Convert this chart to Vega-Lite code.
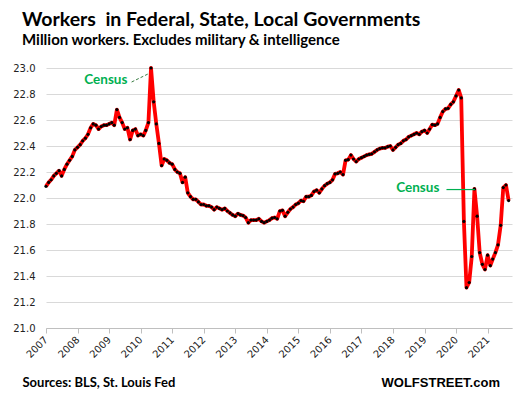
{
  "$schema": "https://vega.github.io/schema/vega-lite/v6.json",
  "width": 466,
  "height": 260,
  "autosize": {"type": "none"},
  "padding": {"left": 46, "top": 68, "right": 6, "bottom": 71},
  "background": "white",
  "config": {"view": {"stroke": null}},
  "title": {
    "text": "Workers\u00a0 in Federal, State, Local Governments",
    "subtitle": "Million workers. Excludes military & intelligence",
    "anchor": "start",
    "frame": "group",
    "dx": -24,
    "offset": 14,
    "font": "Lato",
    "fontSize": 19.5,
    "fontWeight": "bold",
    "color": "black",
    "subtitleFont": "Lato",
    "subtitleFontSize": 15,
    "subtitleFontWeight": "bold",
    "subtitleColor": "black",
    "subtitlePadding": 3
  },
  "layer": [
    {
      "data": {"values": [
        {"d":"2007-01-01","v":22.09},{"d":"2007-02-01","v":22.12},{"d":"2007-03-01","v":22.14},{"d":"2007-04-01","v":22.17},{"d":"2007-05-01","v":22.19},{"d":"2007-06-01","v":22.21},{"d":"2007-07-01","v":22.17},{"d":"2007-08-01","v":22.22},{"d":"2007-09-01","v":22.26},{"d":"2007-10-01","v":22.29},{"d":"2007-11-01","v":22.32},{"d":"2007-12-01","v":22.37},
        {"d":"2008-01-01","v":22.39},{"d":"2008-02-01","v":22.41},{"d":"2008-03-01","v":22.44},{"d":"2008-04-01","v":22.46},{"d":"2008-05-01","v":22.49},{"d":"2008-06-01","v":22.54},{"d":"2008-07-01","v":22.57},{"d":"2008-08-01","v":22.56},{"d":"2008-09-01","v":22.53},{"d":"2008-10-01","v":22.55},{"d":"2008-11-01","v":22.56},{"d":"2008-12-01","v":22.56},
        {"d":"2009-01-01","v":22.57},{"d":"2009-02-01","v":22.58},{"d":"2009-03-01","v":22.56},{"d":"2009-04-01","v":22.68},{"d":"2009-05-01","v":22.62},{"d":"2009-06-01","v":22.58},{"d":"2009-07-01","v":22.53},{"d":"2009-08-01","v":22.54},{"d":"2009-09-01","v":22.45},{"d":"2009-10-01","v":22.52},{"d":"2009-11-01","v":22.53},{"d":"2009-12-01","v":22.48},
        {"d":"2010-01-01","v":22.49},{"d":"2010-02-01","v":22.48},{"d":"2010-03-01","v":22.52},{"d":"2010-04-01","v":22.58},{"d":"2010-05-01","v":23.0},{"d":"2010-06-01","v":22.74},{"d":"2010-07-01","v":22.57},{"d":"2010-08-01","v":22.42},{"d":"2010-09-01","v":22.25},{"d":"2010-10-01","v":22.3},{"d":"2010-11-01","v":22.29},{"d":"2010-12-01","v":22.27},
        {"d":"2011-01-01","v":22.26},{"d":"2011-02-01","v":22.22},{"d":"2011-03-01","v":22.2},{"d":"2011-04-01","v":22.19},{"d":"2011-05-01","v":22.12},{"d":"2011-06-01","v":22.16},{"d":"2011-07-01","v":22.04},{"d":"2011-08-01","v":22.01},{"d":"2011-09-01","v":21.99},{"d":"2011-10-01","v":21.99},{"d":"2011-11-01","v":21.97},{"d":"2011-12-01","v":21.95},
        {"d":"2012-01-01","v":21.95},{"d":"2012-02-01","v":21.94},{"d":"2012-03-01","v":21.94},{"d":"2012-04-01","v":21.93},{"d":"2012-05-01","v":21.91},{"d":"2012-06-01","v":21.93},{"d":"2012-07-01","v":21.92},{"d":"2012-08-01","v":21.91},{"d":"2012-09-01","v":21.92},{"d":"2012-10-01","v":21.9},{"d":"2012-11-01","v":21.885},{"d":"2012-12-01","v":21.87},
        {"d":"2013-01-01","v":21.86},{"d":"2013-02-01","v":21.88},{"d":"2013-03-01","v":21.87},{"d":"2013-04-01","v":21.865},{"d":"2013-05-01","v":21.85},{"d":"2013-06-01","v":21.81},{"d":"2013-07-01","v":21.83},{"d":"2013-08-01","v":21.83},{"d":"2013-09-01","v":21.83},{"d":"2013-10-01","v":21.84},{"d":"2013-11-01","v":21.82},{"d":"2013-12-01","v":21.81},
        {"d":"2014-01-01","v":21.82},{"d":"2014-02-01","v":21.83},{"d":"2014-03-01","v":21.845},{"d":"2014-04-01","v":21.85},{"d":"2014-05-01","v":21.84},{"d":"2014-06-01","v":21.9},{"d":"2014-07-01","v":21.905},{"d":"2014-08-01","v":21.86},{"d":"2014-09-01","v":21.89},{"d":"2014-10-01","v":21.915},{"d":"2014-11-01","v":21.93},{"d":"2014-12-01","v":21.95},
        {"d":"2015-01-01","v":21.96},{"d":"2015-02-01","v":21.98},{"d":"2015-03-01","v":21.975},{"d":"2015-04-01","v":22.01},{"d":"2015-05-01","v":22.01},{"d":"2015-06-01","v":22.02},{"d":"2015-07-01","v":22.05},{"d":"2015-08-01","v":22.06},{"d":"2015-09-01","v":22.04},{"d":"2015-10-01","v":22.07},{"d":"2015-11-01","v":22.095},{"d":"2015-12-01","v":22.11},
        {"d":"2016-01-01","v":22.12},{"d":"2016-02-01","v":22.14},{"d":"2016-03-01","v":22.185},{"d":"2016-04-01","v":22.19},{"d":"2016-05-01","v":22.2},{"d":"2016-06-01","v":22.18},{"d":"2016-07-01","v":22.29},{"d":"2016-08-01","v":22.295},{"d":"2016-09-01","v":22.33},{"d":"2016-10-01","v":22.3},{"d":"2016-11-01","v":22.28},{"d":"2016-12-01","v":22.3},
        {"d":"2017-01-01","v":22.31},{"d":"2017-02-01","v":22.32},{"d":"2017-03-01","v":22.33},{"d":"2017-04-01","v":22.335},{"d":"2017-05-01","v":22.34},{"d":"2017-06-01","v":22.355},{"d":"2017-07-01","v":22.37},{"d":"2017-08-01","v":22.38},{"d":"2017-09-01","v":22.385},{"d":"2017-10-01","v":22.385},{"d":"2017-11-01","v":22.395},{"d":"2017-12-01","v":22.4},
        {"d":"2018-01-01","v":22.37},{"d":"2018-02-01","v":22.39},{"d":"2018-03-01","v":22.41},{"d":"2018-04-01","v":22.42},{"d":"2018-05-01","v":22.44},{"d":"2018-06-01","v":22.45},{"d":"2018-07-01","v":22.47},{"d":"2018-08-01","v":22.48},{"d":"2018-09-01","v":22.49},{"d":"2018-10-01","v":22.5},{"d":"2018-11-01","v":22.49},{"d":"2018-12-01","v":22.51},
        {"d":"2019-01-01","v":22.52},{"d":"2019-02-01","v":22.5},{"d":"2019-03-01","v":22.53},{"d":"2019-04-01","v":22.565},{"d":"2019-05-01","v":22.56},{"d":"2019-06-01","v":22.57},{"d":"2019-07-01","v":22.62},{"d":"2019-08-01","v":22.665},{"d":"2019-09-01","v":22.685},{"d":"2019-10-01","v":22.69},{"d":"2019-11-01","v":22.72},{"d":"2019-12-01","v":22.74},
        {"d":"2020-01-01","v":22.785},{"d":"2020-02-01","v":22.83},{"d":"2020-03-01","v":22.77},{"d":"2020-04-01","v":21.82},{"d":"2020-05-01","v":21.31},{"d":"2020-06-01","v":21.35},{"d":"2020-07-01","v":21.55},{"d":"2020-08-01","v":22.07},{"d":"2020-09-01","v":21.86},{"d":"2020-10-01","v":21.58},{"d":"2020-11-01","v":21.49},{"d":"2020-12-01","v":21.45},
        {"d":"2021-01-01","v":21.56},{"d":"2021-02-01","v":21.48},{"d":"2021-03-01","v":21.53},{"d":"2021-04-01","v":21.58},{"d":"2021-05-01","v":21.64},{"d":"2021-06-01","v":21.79},{"d":"2021-07-01","v":22.08},{"d":"2021-08-01","v":22.1},{"d":"2021-09-01","v":21.98}
      ]},
      "mark": {"type": "line", "color": "#FF0000", "strokeWidth": 3.8, "strokeJoin": "round", "point": {"filled": true, "color": "black", "size": 10}},
      "encoding": {
        "x": {
          "field": "d", "type": "temporal",
          "scale": {"type": "utc", "domain": [{"year": 2007, "month": 1, "date": 1, "utc": true}, {"year": 2021, "month": 10, "date": 10, "utc": true}]},
          "axis": {
            "title": "Sources: BLS, St. Louis Fed",
            "titleX": -24, "titleY": 58, "titleAlign": "left", "titleBaseline": "alphabetic",
            "titleFont": "Lato", "titleFontSize": 13, "titleFontWeight": "bold", "titleColor": "black",
            "tickCount": {"interval": "year", "step": 1},
            "format": "%Y",
            "labelOverlap": false,
            "labelFlush": false,
            "labelAngle": -45, "labelAlign": "right", "labelBaseline": "middle",
            "labelFont": "DejaVu Sans", "labelFontSize": 10, "labelColor": "#222222", "labelPadding": 5,
            "tickSize": 5, "tickColor": "#BFBFBF", "domainColor": "#BFBFBF", "grid": false
          }
        },
        "y": {
          "field": "v", "type": "quantitative",
          "scale": {"domain": [21, 23], "nice": false, "zero": false},
          "axis": {
            "title": "WOLFSTREET.com",
            "titleAngle": 0, "titleX": 335, "titleY": 318, "titleAlign": "left", "titleBaseline": "alphabetic",
            "titleFont": "Liberation Sans", "titleFontSize": 13, "titleFontWeight": "bold", "titleColor": "black",
            "tickCount": 10,
            "format": ".1f",
            "labelOverlap": false,
            "labelFlush": false,
            "labelFont": "DejaVu Sans", "labelFontSize": 10, "labelColor": "#222222", "labelPadding": 11,
            "ticks": false, "domain": false,
            "grid": true, "gridColor": "#D9D9D9", "gridWidth": 1
          }
        }
      }
    },
    {
      "data": {"values": [{"d": "2009-09-18", "v": 22.892, "d2": "2010-03-27", "v2": 22.954}]},
      "mark": {"type": "rule", "color": "#3A7D44", "strokeWidth": 1, "strokeDash": [3, 2]},
      "encoding": {
        "x": {"field": "d", "type": "temporal"},
        "y": {"field": "v", "type": "quantitative"},
        "x2": {"field": "d2"},
        "y2": {"field": "v2"}
      }
    },
    {
      "data": {"values": [{"d": "2019-09-12", "v": 22.065, "d2": "2020-08-06", "v2": 22.065}]},
      "mark": {"type": "rule", "color": "#00B050", "strokeWidth": 1.2},
      "encoding": {
        "x": {"field": "d", "type": "temporal"},
        "y": {"field": "v", "type": "quantitative"},
        "x2": {"field": "d2"},
        "y2": {"field": "v2"}
      }
    },
    {
      "data": {"values": [{"d": "2008-11-24", "v": 22.877, "t": "Census"}, {"d": "2018-10-15", "v": 22.046, "t": "Census"}]},
      "mark": {"type": "text", "font": "Lato", "fontSize": 13.5, "fontWeight": "bold", "color": "#00B050", "align": "center", "baseline": "alphabetic"},
      "encoding": {
        "x": {"field": "d", "type": "temporal"},
        "y": {"field": "v", "type": "quantitative"},
        "text": {"field": "t"}
      }
    }
  ]
}
